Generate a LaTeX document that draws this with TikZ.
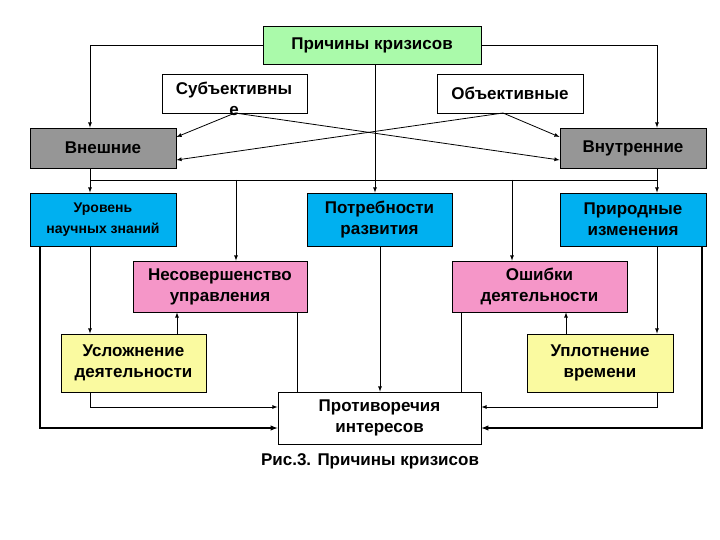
\documentclass[tikz,border=0pt]{standalone}
\usepackage{fontspec}
\setmainfont{Liberation Sans}
\definecolor{bl}{RGB}{0,176,240}
\definecolor{gr}{RGB}{150,150,150}
\definecolor{pk}{RGB}{245,150,200}
\definecolor{yl}{RGB}{250,250,160}
\definecolor{lg}{RGB}{170,250,170}
\begin{document}
\begin{tikzpicture}[x=1pt,y=-1pt,
 box/.style={draw,line width=0.8pt,align=center,inner sep=0pt,font=\fontsize{17}{21}\selectfont\bfseries},
 ln/.style={line width=0.8pt},
 ar/.style={line width=0.8pt,-latex},
 thk/.style={line width=1.4pt,-latex}]
\useasboundingbox (0,0) rectangle (720,540);
\newcommand\bx[7]{\node[box,fill=#6,minimum width=#3-#2,minimum height=#5-#4] (#1) at ({(#2+#3)/2},{(#4+#5)/2}) {#7};}
\bx{top}{263}{481}{26}{64}{lg}{Причины кризисов}
\bx{sub}{162}{307}{74}{113}{white}{}
\node[font=\fontsize{17}{21}\selectfont\bfseries,align=center] at (234,99) {Субъективны\\е};
\bx{obj}{437}{583}{74}{113}{white}{Объективные}
\bx{ext}{30}{176}{128}{168}{gr}{Внешние}
\bx{int}{560}{706}{128}{168}{gr}{Внутренние}
\bx{lev}{30}{176}{193}{246}{bl}{\fontsize{14}{18}\selectfont\bfseries Уровень\\\fontsize{14}{18}\selectfont\bfseries научных знаний}
\bx{need}{307}{452}{193}{246}{bl}{Потребности\\развития}
\bx{nat}{560}{706}{193}{246}{bl}{Природные\\изменения}
\bx{imp}{133}{307}{261}{312}{pk}{Несовершенство\\управления}
\bx{err}{452}{627}{261}{312}{pk}{Ошибки\\деятельности}
\bx{cmp}{61}{206}{334}{392}{yl}{Усложнение\\деятельности}
\bx{den}{527}{673}{334}{392}{yl}{Уплотнение\\времени}
\bx{con}{278}{481}{392}{444}{white}{Противоречия\\интересов}
\node[font=\fontsize{17}{21}\selectfont\bfseries] (cap) at (370,461) {Рис.3. Причины кризисов};
\coordinate (sp) at (235,113); \coordinate (op) at (503,113);
\draw[ar] (top.west|-0,45) -| (ext.north-|90,0);
\draw[ar] (top.east|-0,45) -| (int.north-|657,0);
\draw[ar] (top.south-|375,0) -- (need.north-|375,0);
\draw[ar] (sp) -- (ext.east|-0,137);
\draw[ar] (sp) -- (int.west|-0,160);
\draw[ar] (op) -- (int.west|-0,137);
\draw[ar] (op) -- (ext.east|-0,160);
\draw[ln] (90,180) -- (657,180);
\draw[ar] (ext.south-|90,0) -- (lev.north-|90,0);
\draw[ar] (int.south-|657,0) -- (nat.north-|657,0);
\draw[ar] (236,180) -- (imp.north-|236,0);
\draw[ar] (512,180) -- (err.north-|512,0);
\draw[ar] (lev.south-|90,0) -- (cmp.north-|90,0);
\draw[ar] (nat.south-|657,0) -- (den.north-|657,0);
\draw[thk] (lev.south-|40,0) |- (con.west|-0,428);
\draw[thk] (nat.south-|702,0) |- (con.east|-0,428);
\draw[ar] (cmp.south-|90,0) |- (con.west|-0,407);
\draw[ar] (den.south-|657,0) |- (con.east|-0,407);
\draw[ar] (cmp.north-|177,0) -- (imp.south-|177,0);
\draw[ar] (den.north-|566,0) -- (err.south-|566,0);
\draw[ln] (imp.south-|297,0) -- (con.north-|297,0);
\draw[ln] (err.south-|461,0) -- (con.north-|461,0);
\draw[ar] (need.south-|380,0) -- (con.north-|380,0);
\end{tikzpicture}
\end{document}
